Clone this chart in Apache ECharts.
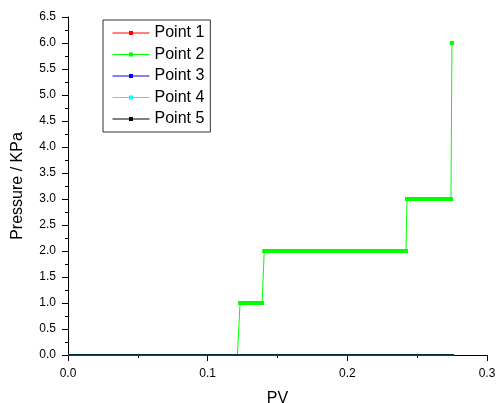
<!DOCTYPE html>
<html><head><meta charset="utf-8">
<script src="https://cdn.jsdelivr.net/npm/echarts@6/dist/echarts.min.js"></script>
<style>html,body{margin:0;padding:0;background:#fff}#c{width:498px;height:403px}</style>
</head><body><div id="c"></div>
<script>
var seriesNames = ['Point 1','Point 2','Point 3','Point 4','Point 5'];
var seriesColors = ['#ff0000','#00ff00','#0000ff','#00ffff','#000000'];
var xTicks = [0.0, 0.1, 0.2, 0.3];
var yTicks = [0.0,0.5,1.0,1.5,2.0,2.5,3.0,3.5,4.0,4.5,5.0,5.5,6.0,6.5];

// Points 1,3,4,5: flat at zero
var flatPV = [0, 0.2764];
var flatPressure = [0, 0];

// Point 2: stepped
var p2PV = [0, 0.1213,
  0.1232,0.1250,0.1270,0.1290,0.1310,0.1330,0.1350,0.1370,0.1390,
  0.1405,0.1425,0.1445,0.1465,0.1485,0.1505,0.1525,0.1545,0.1565,0.1585,
  0.1605,0.1625,0.1645,0.1665,0.1685,0.1705,0.1725,0.1745,0.1765,0.1785,
  0.1805,0.1825,0.1845,0.1865,0.1885,0.1905,0.1925,0.1945,0.1965,0.1985,
  0.2005,0.2025,0.2045,0.2065,0.2085,0.2105,0.2125,0.2145,0.2165,0.2185,
  0.2205,0.2225,0.2245,0.2265,0.2285,0.2305,0.2325,0.2345,0.2365,0.2385,
  0.2405,0.2420,
  0.2427,0.2445,0.2465,0.2485,0.2505,0.2525,0.2545,0.2565,0.2585,0.2605,
  0.2625,0.2645,0.2665,0.2685,0.2705,0.2725,0.2742,
  0.2749];
var p2Pressure = [0, 0,
  1,1,1,1,1,1,1,1,1,
  2,2,2,2,2,2,2,2,2,2,
  2,2,2,2,2,2,2,2,2,2,
  2,2,2,2,2,2,2,2,2,2,
  2,2,2,2,2,2,2,2,2,2,
  2,2,2,2,2,2,2,2,2,2,
  2,2,
  3,3,3,3,3,3,3,3,3,3,
  3,3,3,3,3,3,3,
  6];

function pairs(xs, ys, hideZero){
  return xs.map(function(x,i){
    var it = {value: [x, ys[i]]};
    if (hideZero && ys[i] === 0) it.symbol = 'none';
    return it;
  });
}

var chart = echarts.init(document.getElementById('c'));
var font = 'Arial, "Liberation Sans", sans-serif';
var series = seriesNames.map(function(n, i){
  var isP2 = (i === 1);
  return {
    name: n, type: 'line',
    data: isP2 ? pairs(p2PV, p2Pressure, true) : pairs(flatPV, flatPressure, false),
    symbol: 'rect', symbolSize: 4,
    showSymbol: isP2,
    lineStyle: {color: seriesColors[i], width: isP2 ? 1 : 1.6},
    itemStyle: {color: seriesColors[i]},
    animation: false, z: isP2 ? 2 : 3
  };
});

chart.setOption({
  animation: false,
  grid: {left: 68, right: 11, top: 17, bottom: 48, containLabel: false, outerBoundsMode: 'none'},
  legend: {
    orient: 'vertical', left: 103, top: 20,
    data: seriesNames,
    itemWidth: 37, itemHeight: 5, itemGap: 5.5,
    padding: [5, 6, 5, 9],
    borderColor: '#333', borderWidth: 1,
    lineStyle: {width: 1},
    textStyle: {fontFamily: font, fontSize: 16, color: '#000', lineHeight: 16}
  },
  xAxis: {
    type: 'value', min: 0, max: 0.3, interval: 0.1,
    name: 'PV', nameLocation: 'middle', nameGap: 36,
    nameTextStyle: {fontFamily: font, fontSize: 16, color: '#000'},
    axisLine: {lineStyle: {color: '#000', width: 1}},
    axisTick: {show: true, inside: false, length: 6, lineStyle: {color: '#000'}},
    minorTick: {show: true, splitNumber: 2, length: 3, lineStyle: {color: '#000'}},
    splitLine: {show: false},
    axisLabel: {fontFamily: font, fontSize: 12, color: '#000', margin: 13,
      formatter: function(v){ return v.toFixed(1); }}
  },
  yAxis: {
    type: 'value', min: 0, max: 6.5, interval: 0.5,
    name: 'Pressure / KPa', nameLocation: 'middle', nameGap: 42,
    nameTextStyle: {fontFamily: font, fontSize: 16, color: '#000'},
    axisLine: {show: true, lineStyle: {color: '#000', width: 1}},
    axisTick: {show: true, inside: false, length: 6, lineStyle: {color: '#000'}},
    minorTick: {show: true, splitNumber: 2, length: 3, lineStyle: {color: '#000'}},
    splitLine: {show: false},
    axisLabel: {fontFamily: font, fontSize: 12, color: '#000', margin: 12,
      formatter: function(v){ return v.toFixed(1); }}
  },
  series: series
});
</script></body></html>
